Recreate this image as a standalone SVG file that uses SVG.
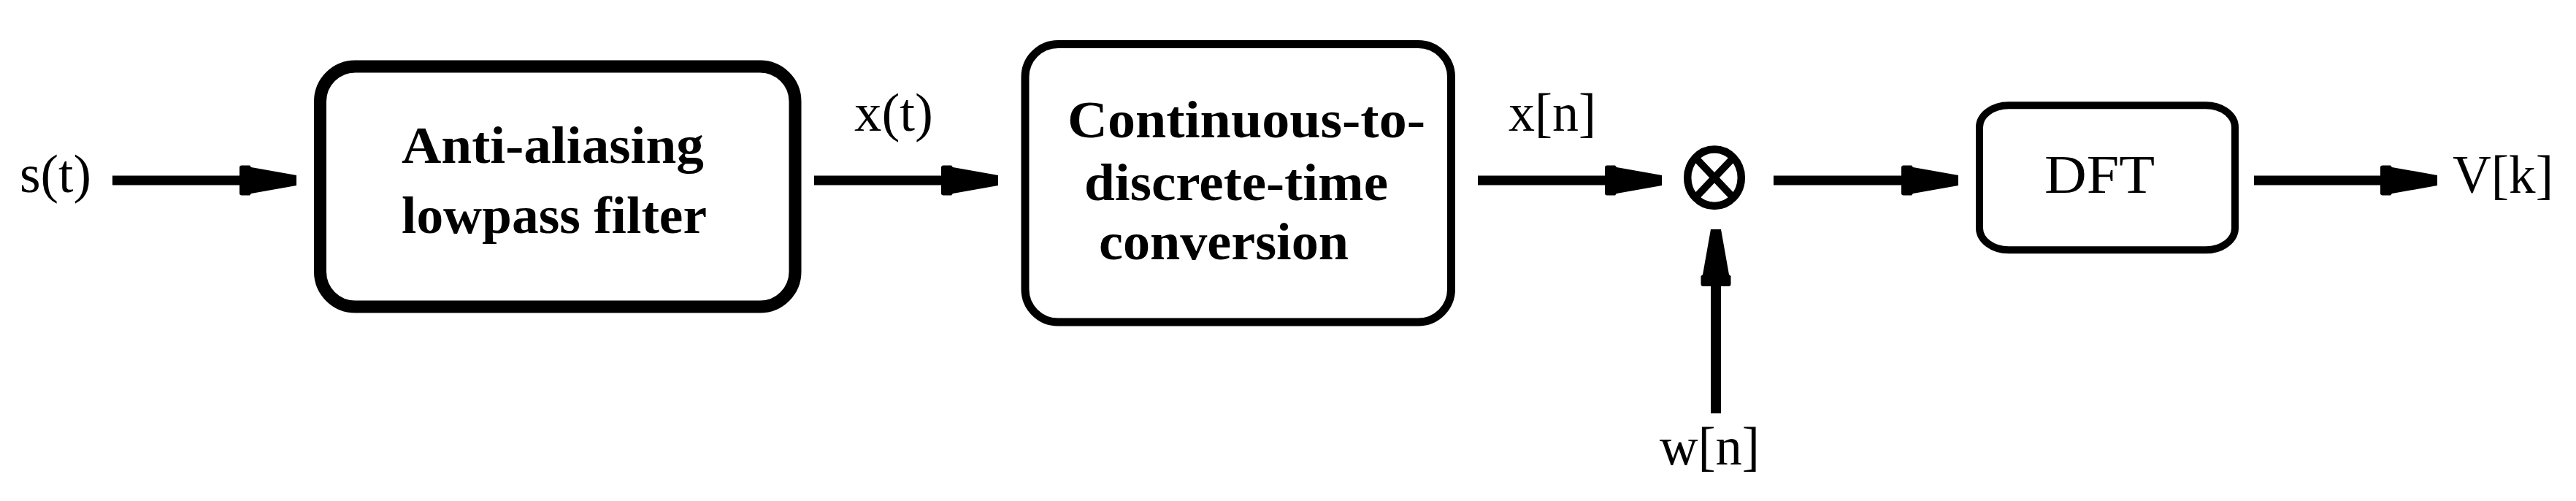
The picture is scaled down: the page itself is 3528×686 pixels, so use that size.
<svg xmlns="http://www.w3.org/2000/svg" xmlns:xlink="http://www.w3.org/1999/xlink" width="3528" height="686" viewBox="0 0 3528 686">
<style>
.box{fill:#fff;stroke:#000}
.bt{font-family:"Liberation Serif","Times New Roman",serif;font-weight:bold;font-size:72px;fill:#000}
.lb{font-family:"Liberation Serif","Times New Roman",serif;font-size:74px;fill:#000}
.ln{stroke:#000;stroke-width:13;fill:none}
</style>
<defs>
<path id="ah" d="M0,-7 L-62,-18 L-64,-20.5 L-75,-20.5 Q-78,-20.5 -78,-17.5 L-78,17.5 Q-78,20.5 -75,20.5 L-64,20.5 L-62,18 L0,7 Z" fill="#000"/>
</defs>
<rect width="3528" height="686" fill="#fff"/>
<g id="connectors">
<line class="ln" x1="154" y1="247" x2="400" y2="247"/>
<use xlink:href="#ah" href="#ah" transform="translate(406,247)"/>
<line class="ln" x1="1115" y1="247" x2="1361" y2="247"/>
<use xlink:href="#ah" href="#ah" transform="translate(1367,247)"/>
<line class="ln" x1="2024" y1="247" x2="2270" y2="247"/>
<use xlink:href="#ah" href="#ah" transform="translate(2276,247)"/>
<line class="ln" x1="2429" y1="247" x2="2676" y2="247"/>
<use xlink:href="#ah" href="#ah" transform="translate(2682,247)"/>
<line class="ln" x1="3087" y1="247" x2="3332" y2="247"/>
<use xlink:href="#ah" href="#ah" transform="translate(3338,247)"/>
<line class="ln" style="stroke-width:14" x1="2350" y1="566" x2="2350" y2="320"/>
<use xlink:href="#ah" href="#ah" transform="translate(2350,314) rotate(-90)"/>
</g>
<g id="label-s">
<text class="lb" x="27" y="263" textLength="98" lengthAdjust="spacingAndGlyphs">s(t)</text>
</g>
<g id="node-antialias">
<rect class="box" x="438.5" y="91" width="650.5" height="329" rx="48" ry="48" stroke-width="17"/>
<text class="bt" x="550" y="223" textLength="414" lengthAdjust="spacingAndGlyphs">Anti-aliasing</text>
<text class="bt" x="550" y="319" textLength="418" lengthAdjust="spacingAndGlyphs">lowpass filter</text>
</g>
<g id="label-xt">
<text class="lb" x="1170" y="179" textLength="108" lengthAdjust="spacingAndGlyphs">x(t)</text>
</g>
<g id="node-c2d">
<rect class="box" x="1404" y="60.5" width="583.5" height="380.5" rx="45" ry="45" stroke-width="11"/>
<text class="bt" x="1462" y="188" textLength="490" lengthAdjust="spacingAndGlyphs">Continuous-to-</text>
<text class="bt" x="1485" y="273.5" textLength="416" lengthAdjust="spacingAndGlyphs">discrete-time</text>
<text class="bt" x="1505" y="355" textLength="342" lengthAdjust="spacingAndGlyphs">conversion</text>
</g>
<g id="label-xn">
<text class="lb" x="2066" y="179" textLength="120" lengthAdjust="spacingAndGlyphs">x[n]</text>
</g>
<g id="node-multiplier">
<ellipse cx="2348" cy="243.3" rx="36.8" ry="38.8" fill="#fff" stroke="#000" stroke-width="10.5"/>
<line x1="2322" y1="215.9" x2="2374" y2="270.7" stroke="#000" stroke-width="10"/>
<line x1="2374" y1="215.9" x2="2322" y2="270.7" stroke="#000" stroke-width="10"/>
</g>
<g id="label-wn">
<text class="lb" x="2273" y="636" textLength="137" lengthAdjust="spacingAndGlyphs">w[n]</text>
</g>
<g id="node-dft">
<rect class="box" x="2711" y="144.3" width="350" height="198" rx="40" ry="30" stroke-width="10"/>
<text class="lb" x="2800" y="263.5" textLength="151" lengthAdjust="spacingAndGlyphs">DFT</text>
</g>
<g id="label-vk">
<text class="lb" x="3359" y="264" textLength="138" lengthAdjust="spacingAndGlyphs">V[k]</text>
</g>
</svg>
